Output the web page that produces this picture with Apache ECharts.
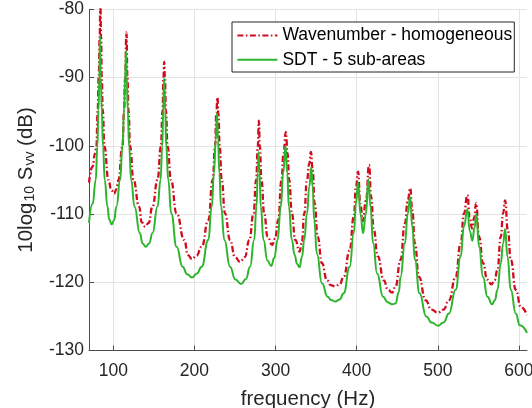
<!DOCTYPE html>
<html>
<head>
<meta charset="utf-8">
<script src="https://cdn.jsdelivr.net/npm/echarts@6/dist/echarts.min.js"></script>
<style>html,body{margin:0;padding:0;background:#fff;}#c{width:532px;height:408px;}</style>
</head>
<body>
<div id="c"></div>
<script>
// [frequency (Hz), 10log10 Svv (dB)]
const redPoints = [[70,-105.4],[74.2,-103.1],[77.5,-101.1],[79.1,-100.1],[80.7,-94.8],[82.0,-90],[83.2,-84],[84.0,-79],[84.9,-84],[85.7,-90],[87.0,-94.8],[89.0,-100.1],[94.0,-105],[97.5,-106.5],[101.0,-107.0],[104,-106.3],[106.3,-105],[111.2,-100.1],[113.3,-94.8],[114.5,-90],[116.2,-83.4],[117.4,-90],[118.7,-94.8],[120.7,-100.1],[124.8,-105],[131.8,-108.9],[135,-111.2],[139.3,-111.85],[143.5,-111.3],[148.3,-108.9],[154.5,-105],[158.6,-100.1],[160.7,-94.8],[161.8,-90],[162.7,-87.7],[163.6,-90],[164.8,-94.8],[166.9,-100.1],[171.0,-105],[178.0,-109.9],[187.5,-113.8],[192,-116.0],[197.0,-116.6],[202.5,-116.1],[208.9,-114.8],[217.1,-110.9],[222.5,-105],[225.4,-100.1],[227.0,-95.2],[228.3,-92.9],[229.5,-95.2],[231.1,-100.1],[233.6,-105],[237.7,-109.9],[243.9,-113.8],[250,-116.3],[256.3,-117.0],[262,-116.3],[267.8,-113.8],[272.8,-109.9],[276.1,-105],[278.1,-100.1],[279.4,-96.3],[280.6,-100.1],[282.6,-105],[286.0,-109.9],[290.1,-113.3],[295.8,-114.5],[299.5,-113.6],[303.2,-110.9],[307.4,-105],[309.8,-101.1],[312.7,-98.0],[314.8,-101.1],[316.8,-105],[320.1,-109.9],[324.3,-113.8],[329.6,-115.5],[332.5,-114.0],[335.4,-109.9],[338.7,-105],[341.6,-102.6],[343.6,-100.9],[345.7,-103.5],[348.2,-108.4],[351.9,-113.3],[357.2,-117.2],[363.4,-119.7],[368,-120.4],[373.7,-120.6],[379,-120.3],[384.0,-119.2],[391.4,-115.3],[396.4,-110.4],[399.2,-106],[401.7,-103.8],[404.5,-108.5],[407.5,-111.0],[411.5,-108],[415.3,-102.8],[417.8,-107.5],[421.1,-112.3],[426.0,-116.2],[433.5,-119.7],[438.5,-121.1],[443.8,-121.5],[447.9,-120.6],[454.1,-116.7],[459.4,-111.4],[463.1,-107.9],[466.0,-106.2],[468.5,-109.4],[471.8,-114.3],[476.7,-119.2],[485.0,-122.6],[492,-124.0],[500.2,-124.45],[507,-124.0],[513.8,-122.6],[522.0,-119.2],[528.2,-114.3],[532.3,-109.9],[536.5,-107.2],[539.5,-110.5],[542.2,-112.1],[545.0,-110.5],[547.2,-108.4],[550.9,-113.3],[555.8,-117.2],[561,-119.6],[566.1,-120.3],[570,-119.7],[573.5,-118.2],[577.7,-113.3],[580.5,-109.9],[583.0,-108.0],[586.3,-112.3],[590.0,-116.7],[596.2,-121.1],[602.4,-123.6],[610.0,-124.8]];

const greenPoints = [[70,-111.3],[74.5,-108.5],[78.3,-105],[80.3,-100.1],[81.6,-94.8],[82.8,-90],[83.6,-83.9],[84.5,-90],[85.7,-94.8],[87.3,-100.1],[89.4,-105],[92.7,-108.9],[95,-110.8],[98.0,-111.5],[101,-110.9],[103.8,-108.9],[108.4,-105],[111.2,-100.1],[113.3,-94.8],[114.5,-90],[115.8,-86.1],[116.6,-90],[117.8,-94.8],[119.5,-100.1],[122.0,-105],[126.1,-108.9],[132.7,-112.8],[136,-114.3],[140.0,-114.8],[144,-114.3],[148.3,-112.8],[154.5,-108.9],[158.2,-105],[160.3,-100.1],[161.5,-94.8],[162.7,-90.1],[164.0,-94.8],[165.2,-100.1],[167.7,-105],[171.4,-109.9],[178.0,-114.8],[185.4,-117.7],[191,-118.8],[197.0,-119.3],[203,-118.7],[208.9,-117.7],[217.1,-113.8],[221.3,-108.9],[224.1,-104],[226.2,-99.15],[227.8,-95.2],[229.1,-99.15],[230.7,-104],[232.8,-108.9],[236.9,-113.8],[243.9,-117.7],[250.5,-119.6],[257.5,-120.25],[263.5,-119.5],[268.6,-117.7],[273.6,-113.8],[276.5,-108.9],[278.1,-104],[279.0,-100.9],[280.2,-104],[281.8,-108.9],[285.1,-113.8],[290,-116.8],[294.6,-117.6],[298.5,-116.4],[302.4,-113.8],[306.5,-108.9],[309.4,-104],[312.3,-100.0],[314.4,-104],[316.4,-108.9],[320.1,-113.8],[323.5,-116],[326.5,-117.3],[329.6,-117.8],[332.5,-116.3],[335.4,-113.8],[338.7,-109.9],[341.6,-106],[344.0,-103.15],[345.7,-106],[347.7,-110.9],[351.0,-115.8],[357.2,-120.15],[364.2,-122.1],[368.5,-122.6],[373.7,-122.8],[379,-122.5],[384.0,-121.6],[391.4,-117.7],[396.4,-112.8],[399.2,-108.4],[401.7,-105.3],[404.7,-110],[407.9,-112.8],[411.3,-110],[414.5,-104.9],[417.0,-108.9],[420.3,-114.3],[425.2,-118.7],[432.6,-122.1],[438,-122.9],[443.8,-123.2],[447.9,-123.1],[452.0,-121.4],[454.1,-119.2],[459.4,-114.3],[463.1,-109.9],[466.0,-107.5],[468.5,-111.8],[471.8,-116.7],[477.5,-121.6],[485.8,-125],[492.5,-125.9],[500.2,-126.35],[507,-125.9],[513.8,-124.55],[522.0,-121.1],[528.2,-116.2],[532.3,-111.8],[536.5,-109.3],[539.5,-112.5],[542.6,-113.9],[545.3,-112],[547.6,-109.9],[550.9,-114.8],[555.8,-119.2],[561.2,-122.1],[567.0,-123.2],[570.5,-122.6],[573.5,-121.1],[577.7,-117.2],[580.5,-114.3],[583.0,-112.2],[585.9,-116.2],[590.0,-121.1],[596.2,-124.55],[601.1,-126.3],[610.0,-127.4]];

const seriesNames = ['Wavenumber - homogeneous', 'SDT - 5 sub-areas'];
const xTicks = [100, 200, 300, 400, 500, 600];
const xMin = 70, xMax = 610;
const yMin = -130, yMax = -80, yStep = 10;

const FONT = 'Liberation Sans, Arial, Helvetica, sans-serif';
const TXT = '#262626';
const RED = '#d20a1e', GREEN = '#2db42d';

const chart = echarts.init(document.getElementById('c'), null, {renderer: 'canvas'});
chart.setOption({
  animation: false,
  backgroundColor: '#fff',
  grid: {left: 89, right: 5, top: 9.3, bottom: 57.4, containLabel: false, outerBoundsMode: 'none'},
  legend: {
    orient: 'vertical',
    left: 232,
    top: 22,
    padding: [3.4, 2, 2.3, 4.4],
    itemGap: 4.3,
    itemWidth: 40,
    itemHeight: 14,
    borderColor: '#262626',
    borderWidth: 1,
    backgroundColor: '#fff',
    itemStyle: {opacity: 0},
    textStyle: {fontFamily: FONT, fontSize: 17.5, color: '#000', lineHeight: 20},
    data: seriesNames
  },
  xAxis: {
    type: 'value', min: xMin, max: xMax,
    name: 'frequency (Hz)', nameLocation: 'middle', nameGap: 38,
    nameTextStyle: {fontFamily: FONT, fontSize: 20.5, color: TXT},
    axisLine: {show: true, onZero: false, lineStyle: {color: '#4d4d4d', width: 1}},
    axisTick: {show: true, inside: true, length: 5, customValues: xTicks, lineStyle: {color: '#4d4d4d'}},
    axisLabel: {customValues: xTicks, fontFamily: FONT, fontSize: 17.5, color: TXT, margin: 12},
    splitLine: {show: true, lineStyle: {color: '#e3e3e3', width: 1}}
  },
  yAxis: {
    type: 'value', min: yMin, max: yMax, interval: yStep,
    name: '{a|10log}{s|10}{a| S}{s|vv}{a| (dB)}', nameLocation: 'middle', nameGap: 52,
    nameTextStyle: {
      fontFamily: FONT, color: TXT,
      rich: {
        a: {fontFamily: FONT, fontSize: 20.5, color: TXT},
        s: {fontFamily: FONT, fontSize: 14, color: TXT, verticalAlign: 'bottom', padding: [8, 0, 0, 1]}
      }
    },
    axisLine: {show: true, onZero: false, lineStyle: {color: '#4d4d4d', width: 1}},
    axisTick: {show: true, inside: true, length: 5, lineStyle: {color: '#4d4d4d'}},
    axisLabel: {fontFamily: FONT, fontSize: 17.5, color: TXT, margin: 5},
    splitLine: {show: true, lineStyle: {color: '#e3e3e3', width: 1}}
  },
  series: [
    {
      name: seriesNames[0], type: 'line', data: redPoints,
      showSymbol: false, symbol: 'none', smooth: 0.5, smoothMonotone: 'x', clip: true,
      lineStyle: {color: RED, width: 2.3, type: [6, 2.5, 1.5, 2.5]},
      itemStyle: {color: RED}
    },
    {
      name: seriesNames[1], type: 'line', data: greenPoints,
      showSymbol: false, symbol: 'none', smooth: 0.5, smoothMonotone: 'x', clip: true,
      lineStyle: {color: GREEN, width: 2},
      itemStyle: {color: GREEN}
    }
  ]
});
</script>
</body>
</html>
